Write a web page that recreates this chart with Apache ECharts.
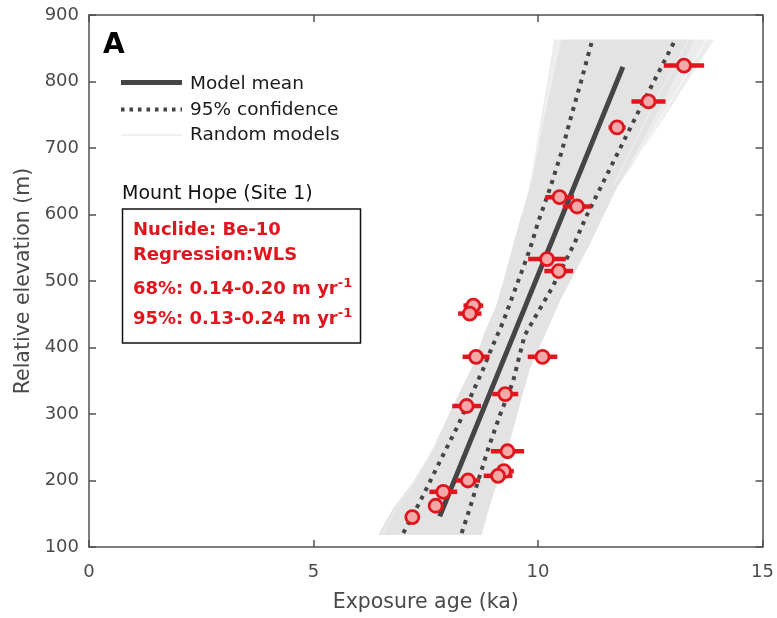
<!DOCTYPE html>
<html>
<head>
<meta charset="utf-8">
<script src="https://cdn.jsdelivr.net/npm/echarts@6/dist/echarts.min.js"></script>
<style>
  html, body { margin: 0; padding: 0; background: #ffffff; }
  #chart { width: 777px; height: 618px; }
</style>
</head>
<body>
<div id="chart"></div>
<script>
// Cosmogenic exposure ages (ka) of the dated samples, their relative elevations (m)
// and the 1-sigma age uncertainties (ka) drawn as horizontal error bars.
const ages       = [13.25, 12.46, 11.76, 10.48, 10.87, 10.20, 10.46, 8.56, 8.48, 8.62, 10.10, 9.27, 8.41, 9.32, 9.24, 9.11, 8.44, 7.89, 7.72, 7.20];
const elevations = [824,   770,   731,   626,   612,   533,   515,   463,  451,  386,  386,   330,  312,  244,  214,  207,  200,  183,  162,  145];
const ageErrors  = [0.45,  0.38,  0.19,  0.32,  0.32,  0.42,  0.32,  0.22, 0.26, 0.30, 0.33,  0.29, 0.32, 0.37, 0.22, 0.32, 0.27, 0.31, 0.15, 0.15];

// Weighted least-squares model mean (age, elevation)
const modelMean = [[7.81, 146], [11.89, 822]];

// 95% confidence limits of the regression
const ciLower = [[7.00, 121], [7.37, 168], [7.59, 198], [7.92, 243], [8.22, 283], [8.48, 323], [8.78, 368],
                 [8.96, 398], [9.22, 438], [9.41, 473], [9.63, 513], [9.82, 548], [10.00, 588], [10.26, 638],
                 [10.52, 693], [10.74, 748], [10.97, 803], [11.19, 858]];
const ciUpper = [[8.30, 121], [8.48, 158], [8.66, 198], [8.89, 248], [9.15, 298], [9.44, 348], [9.70, 418],
                 [10.04, 458], [10.30, 488], [10.56, 523], [10.82, 558], [11.08, 598], [11.30, 628], [11.52, 658],
                 [11.89, 708], [12.26, 758], [12.64, 808], [13.02, 858]];

// Envelope of the random (Monte Carlo) models
const envelopeLeft  = [[6.44, 118], [6.77, 158], [7.22, 198], [7.66, 248], [8.11, 313], [8.57, 376], [8.81, 423],
                       [9.07, 463], [9.26, 508], [9.52, 573], [9.80, 638], [10.15, 750], [10.52, 863]];
const envelopeRight = [[8.74, 118], [8.93, 163], [9.15, 208], [9.37, 258], [9.59, 313], [9.82, 368], [10.51, 473],
                       [11.15, 555], [11.74, 638], [12.64, 750], [13.49, 863]];

// Sparse outer random models fanning out beyond the dense envelope
const fringeRight   = [[11.74, 638], [12.85, 750], [13.92, 863], [13.49, 863], [12.64, 750]];
const fringeLeftTop = [[9.80, 638], [10.08, 750], [10.36, 863], [10.52, 863], [10.15, 750]];

// Individual random models showing as light streaks
const streakA = [[13.75, 863], [12.78, 750], [11.80, 640]];
const streakB = [[13.35, 863], [12.50, 755], [11.70, 645]];
const streakC = [[10.45, 863], [10.10, 740], [9.85, 650]];
const streakD = [[6.52, 118], [6.86, 160], [7.30, 203], [7.72, 255]];

const xTickInterval = 5;
const yTickInterval = 100;

const RED = '#e0161e';
const PINK = '#f3a9a8';
const DARK = '#454545';
const AXIS = '#505050';
const LABEL = '#4a4a4a';
const FONT = 'DejaVu Sans';

const chart = echarts.init(document.getElementById('chart'), null, { renderer: 'canvas' });

const baseAxisLine = { show: true, onZero: false, lineStyle: { color: AXIS, width: 1.5 } };
const baseTick = { show: true, inside: true, length: 7, lineStyle: { color: AXIS, width: 1.5 } };

function areaSeries(points, fill, z) {
  return {
    type: 'custom', silent: true, z: z,
    data: [[0, 0]],
    renderItem: function (params, api) {
      return { type: 'polygon', shape: { points: points.map(p => api.coord(p)) }, style: { fill: fill } };
    }
  };
}

function streak(data, color, width) {
  return {
    type: 'line', data: data, symbol: 'none', silent: true, z: 2,
    lineStyle: { color: color, width: width }
  };
}

const option = {
  animation: false,
  backgroundColor: '#ffffff',
  grid: { left: 89, right: 14, top: 15, bottom: 69, containLabel: false },
  xAxis: [
    {
      type: 'value', min: 0, max: 15, interval: xTickInterval, position: 'bottom',
      axisLine: baseAxisLine, axisTick: baseTick, splitLine: { show: false },
      axisLabel: { margin: 16, color: LABEL, fontFamily: FONT, fontSize: 18 },
      name: 'Exposure age (ka)', nameLocation: 'middle', nameGap: 45,
      nameTextStyle: { color: LABEL, fontFamily: FONT, fontSize: 20.5 }
    },
    {
      type: 'value', min: 0, max: 15, interval: xTickInterval, position: 'top',
      axisLine: baseAxisLine, axisTick: baseTick, splitLine: { show: false },
      axisLabel: { show: false }
    }
  ],
  yAxis: [
    {
      type: 'value', min: 100, max: 900, interval: yTickInterval, position: 'left',
      axisLine: baseAxisLine, axisTick: baseTick, splitLine: { show: false },
      axisLabel: { margin: 10, color: LABEL, fontFamily: FONT, fontSize: 18 },
      name: 'Relative elevation (m)', nameLocation: 'middle', nameGap: 50,
      nameTextStyle: { color: LABEL, fontFamily: FONT, fontSize: 20.5 }
    },
    {
      type: 'value', min: 100, max: 900, interval: yTickInterval, position: 'right',
      axisLine: baseAxisLine, axisTick: baseTick, splitLine: { show: false },
      axisLabel: { show: false }
    }
  ],
  series: [
    areaSeries(fringeRight, '#ececec', 1),
    areaSeries(fringeLeftTop, '#ececec', 1),
    areaSeries(envelopeLeft.concat(envelopeRight.slice().reverse()), '#e3e3e3', 1),
    streak(streakA, '#ffffff', 0.8),
    streak(streakB, '#f4f4f4', 0.8),
    streak(streakC, '#f4f4f4', 0.8),
    streak(streakD, '#f2f2f2', 0.8),
    {
      name: '95% confidence', type: 'line', data: ciLower, symbol: 'none', silent: true, z: 3,
      lineStyle: { color: DARK, width: 4, type: [4, 5.5], cap: 'butt' }
    },
    {
      name: '95% confidence', type: 'line', data: ciUpper, symbol: 'none', silent: true, z: 3,
      lineStyle: { color: DARK, width: 4, type: [4, 5.5], cap: 'butt' }
    },
    {
      name: 'Model mean', type: 'line', data: modelMean, symbol: 'none', silent: true, z: 4,
      lineStyle: { color: DARK, width: 5, cap: 'butt' }
    },
    {
      // age uncertainty bars
      type: 'custom', silent: true, z: 5,
      data: ages.map((a, i) => [a, elevations[i], ageErrors[i]]),
      encode: { x: 0, y: 1 },
      renderItem: function (params, api) {
        const x = api.value(0), y = api.value(1), e = api.value(2);
        const a = api.coord([x - e, y]);
        const b = api.coord([x + e, y]);
        return {
          type: 'line',
          shape: { x1: a[0], y1: a[1], x2: b[0], y2: b[1] },
          style: { stroke: RED, lineWidth: 4.5 }
        };
      }
    },
    {
      type: 'scatter', silent: true, z: 6,
      data: ages.map((a, i) => [a, elevations[i]]),
      symbol: 'circle', symbolSize: 13,
      itemStyle: { color: PINK, borderColor: RED, borderWidth: 2.8, opacity: 1 }
    }
  ],
  graphic: [
    // panel letter
    { type: 'text', left: 103, top: 32, style: { text: 'A', fill: '#000', font: 'bold 28px "DejaVu Sans"' } },
    // legend samples
    { type: 'line', shape: { x1: 121, y1: 82.5, x2: 182, y2: 82.5 }, style: { stroke: DARK, lineWidth: 5 } },
    { type: 'line', shape: { x1: 121, y1: 109.5, x2: 182, y2: 109.5 }, style: { stroke: DARK, lineWidth: 4, lineDash: [3.5, 5] } },
    { type: 'line', shape: { x1: 121, y1: 135, x2: 182, y2: 135 }, style: { stroke: '#e0e0e0', lineWidth: 1 } },
    { type: 'text', x: 190, y: 84, style: { text: 'Model mean', fill: '#1a1a1a', font: '18.5px "DejaVu Sans"', verticalAlign: 'middle' } },
    { type: 'text', x: 190, y: 110, style: { text: '95% confidence', fill: '#1a1a1a', font: '18.5px "DejaVu Sans"', verticalAlign: 'middle' } },
    { type: 'text', x: 190, y: 135, style: { text: 'Random models', fill: '#1a1a1a', font: '18.5px "DejaVu Sans"', verticalAlign: 'middle' } },
    // site name and regression summary
    { type: 'text', x: 122, y: 194, style: { text: 'Mount Hope (Site 1)', fill: '#111', font: '19px "DejaVu Sans"', verticalAlign: 'middle' } },
    { type: 'rect', shape: { x: 122.5, y: 209, width: 238, height: 134 }, style: { fill: '#ffffff', stroke: '#111', lineWidth: 1.5 } },
    { type: 'text', x: 133, y: 230, style: { text: 'Nuclide: Be-10', fill: RED, font: 'bold 18px "DejaVu Sans"', verticalAlign: 'middle' } },
    { type: 'text', x: 133, y: 255, style: { text: 'Regression:WLS', fill: RED, font: 'bold 18px "DejaVu Sans"', verticalAlign: 'middle' } },
    {
      type: 'text', x: 133, y: 289,
      style: {
        text: '68%: 0.14-0.20 m yr{sup|-1}', fill: RED, font: 'bold 18px "DejaVu Sans"', lineHeight: 24, verticalAlign: 'middle',
        rich: { sup: { fill: RED, font: 'bold 13px "DejaVu Sans"', lineHeight: 13, verticalAlign: 'top' } }
      }
    },
    {
      type: 'text', x: 133, y: 319,
      style: {
        text: '95%: 0.13-0.24 m yr{sup|-1}', fill: RED, font: 'bold 18px "DejaVu Sans"', lineHeight: 24, verticalAlign: 'middle',
        rich: { sup: { fill: RED, font: 'bold 13px "DejaVu Sans"', lineHeight: 13, verticalAlign: 'top' } }
      }
    }
  ]
};

chart.setOption(option);
</script>
</body>
</html>
